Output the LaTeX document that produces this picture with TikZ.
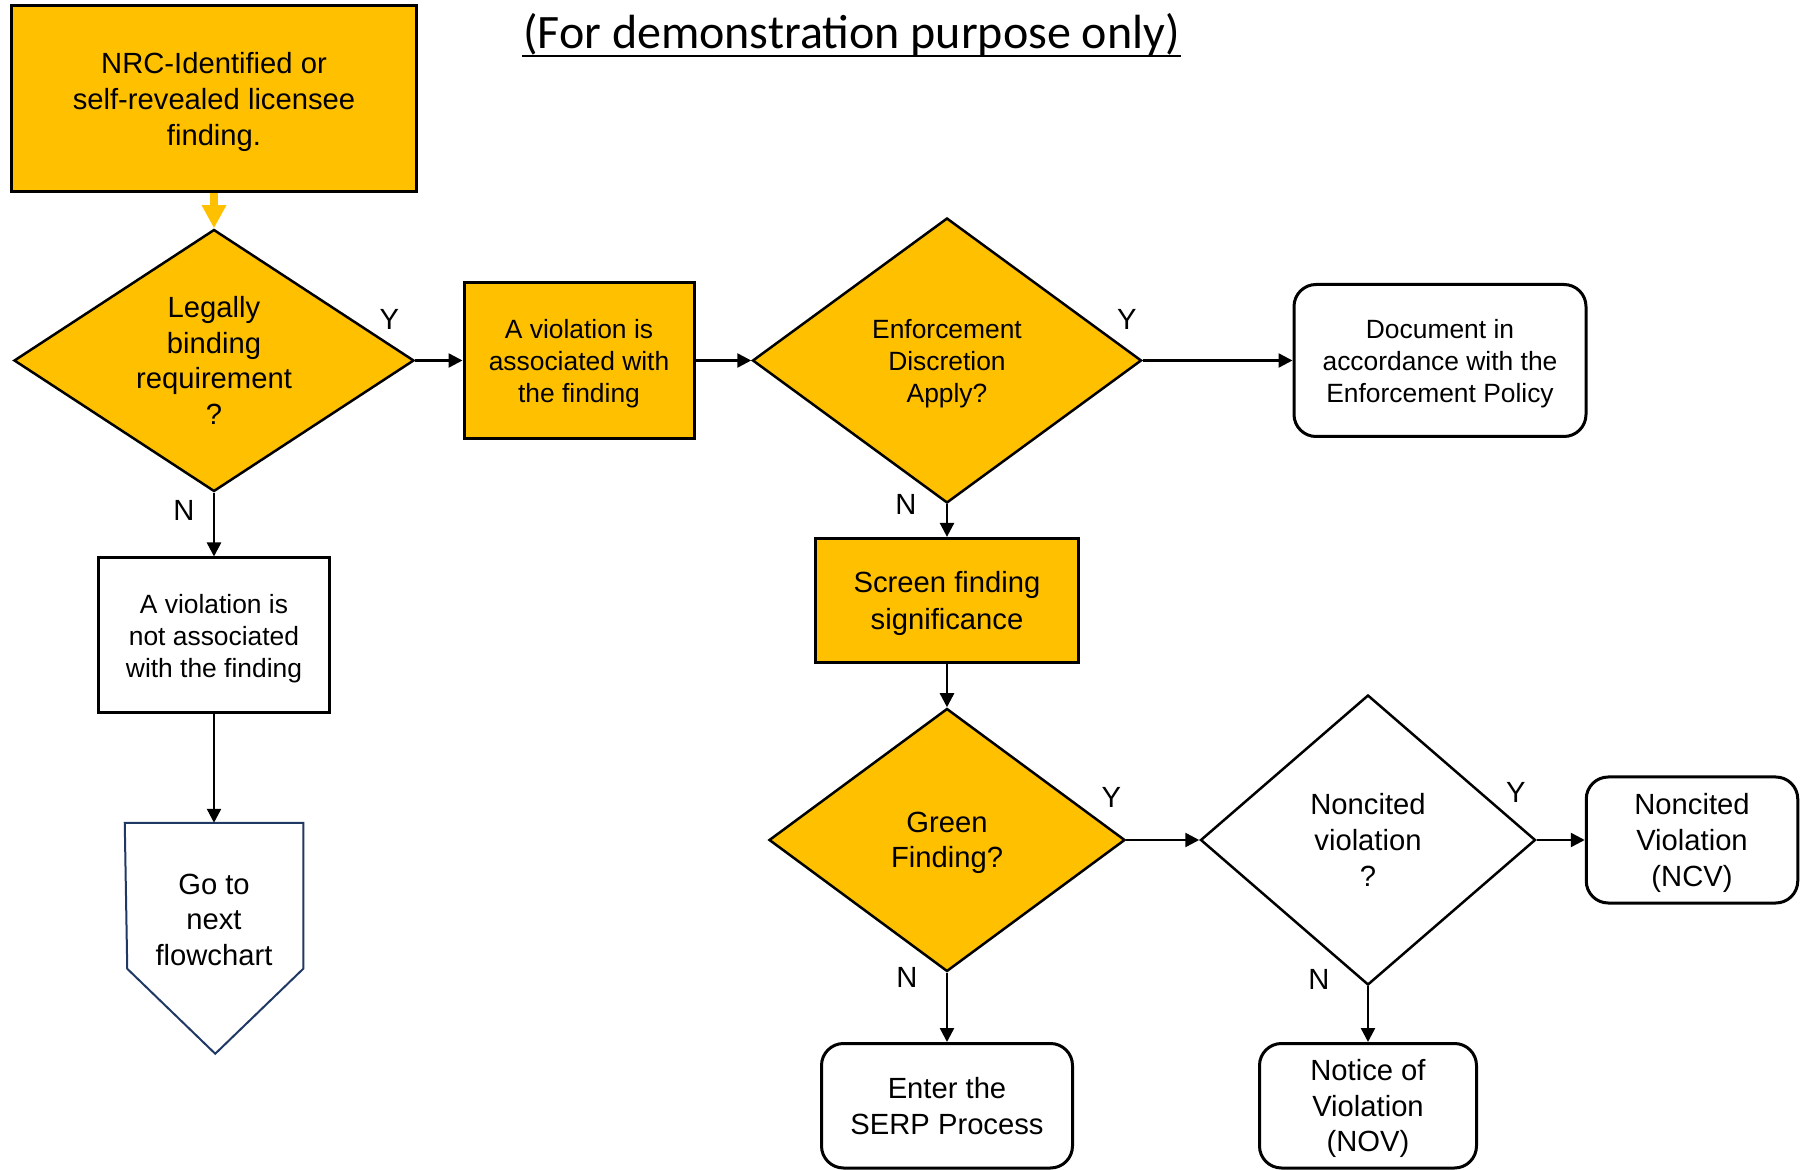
\documentclass[tikz,border=0pt]{standalone}
\usepackage{fontspec}
\setmainfont{Liberation Sans}
\newfontfamily\titlefont{Carlito}
\usetikzlibrary{shapes.geometric,arrows.meta,positioning}
\definecolor{nrcgold}{HTML}{FFC000}
\definecolor{navy}{HTML}{1F3864}

\begin{document}
\begin{tikzpicture}[x=0.5pt, y=-0.5pt, line width=1.25pt,
  >={Triangle[length=7pt,width=7pt]},
  big/.style={font=\fontsize{14.6}{17.8}\selectfont, text depth=-2.2pt},
  small/.style={font=\fontsize{13.2}{16}\selectfont, text depth=-2.2pt},
  box/.style={rectangle, draw, line width=1.5pt, align=center, inner sep=0pt},
  goldbox/.style={box, fill=nrcgold},
  roundbox/.style={box, rounded corners=11pt},
  decision/.style={diamond, aspect=1.5, draw, line width=1.25pt,
    align=center, inner sep=0pt},
  yn/.style={font=\fontsize{14.6}{17.8}\selectfont, inner sep=0pt}]
\useasboundingbox (0,0) rectangle (1800,1170);

\node[inner sep=0pt] (title) at (851.5,35.3)
  {\titlefont\fontsize{24}{28}\selectfont (For demonstration purpose only)};
\draw[line width=1.1pt] ([yshift=-3.6pt]title.base west) -- ([yshift=-3.6pt]title.base east);

% top row
\node[goldbox, big, minimum width=202.5pt, minimum height=93pt] (find) at (214,99)
  {NRC-Identified or\\ self-revealed licensee\\ finding.};
\node[decision, yn, align=center, fill=nrcgold, minimum width=200pt, minimum height=131pt] (legal) at (214,360.5)
  {Legally\\ binding\\ requirement\\ ?};
\node[goldbox, small, minimum width=115pt, minimum height=78pt] (assoc) at (579,360.5)
  {A violation is\\ associated with\\ the finding};
\node[decision, small, fill=nrcgold, minimum width=194.5pt, minimum height=142.5pt] (discr) at (947,360.5)
  {Enforcement\\ Discretion\\ Apply?};
\node[roundbox, small, minimum width=146pt, minimum height=76pt] (docu) at (1440,360.5)
  {Document in\\ accordance with the\\ Enforcement Policy};

% left column
\node[box, small, minimum width=115.5pt, minimum height=77.5pt] (notassoc) at (214,635.5)
  {A violation is\\ not associated\\ with the finding};
\node[big, align=center, inner sep=0pt, minimum width=88pt, minimum height=95.5pt] (goto) at (214,919.5)
  {Go to\\ next\\ flowchart};
\draw[navy, line width=1pt] (goto.north west) -- (goto.north east) -- ++(0,146)
  -- ++(-88,85) -- ++(-88,-85) -- cycle;

% significance
\node[goldbox, big, font=\fontsize{14.6}{18.4}\selectfont, minimum width=131.5pt, minimum height=62pt] (screen) at (947,600.4)
  {Screen finding\\ significance};
\node[decision, big, fill=nrcgold, minimum width=178pt, minimum height=131.5pt] (green) at (947,840)
  {Green\\ Finding?};
\node[decision, big, fill=white, minimum width=167.5pt, minimum height=145pt] (ncq) at (1368,840)
  {Noncited\\ violation\\ ?};
\node[roundbox, big, minimum width=105.75pt, minimum height=63pt] (ncv) at (1692,840)
  {Noncited\\ Violation\\ (NCV)};
\node[roundbox, big, minimum width=125.5pt, minimum height=62.25pt] (serp) at (947,1105.75)
  {Enter the\\ SERP Process};
\node[roundbox, big, minimum width=108.5pt, minimum height=62.25pt] (nov) at (1368,1105.75)
  {Notice of\\ Violation\\ (NOV)};

\draw[nrcgold, line width=3.8pt, -{Triangle[length=11.5pt,width=11.5pt]}] (find) -- (legal);
\path[->]
(legal) edge node[yn, pos=0, xshift=-13pt, yshift=20.75pt]{Y} (assoc);
\path[->]
(legal) edge node[yn, pos=0, xshift=-15pt, yshift=-8.75pt]{N} (notassoc);
\path[->]
(notassoc) edge (goto);
\path[->]
(assoc) edge (discr);
\path[->]
(discr) edge node[yn, pos=0, xshift=-8pt, yshift=20.75pt]{Y} (docu);
\path[->]
(discr) edge node[yn, pos=0, xshift=-20.5pt]{N} (screen);
\path[->]
(screen) edge (green);
\path[->]
(green) edge node[yn, pos=0, xshift=-7.5pt, yshift=21.5pt]{Y} (ncq);
\path[->]
(green) edge node[yn, pos=0, xshift=-20pt, yshift=-2.5pt]{N} (serp);
\path[->]
(ncq) edge node[yn, pos=0, xshift=-10.5pt, yshift=24pt]{Y} (ncv);
\path[->]
(ncq) edge node[yn, pos=0, xshift=-24.5pt, yshift=3.5pt]{N} (nov);
\end{tikzpicture}
\end{document}
